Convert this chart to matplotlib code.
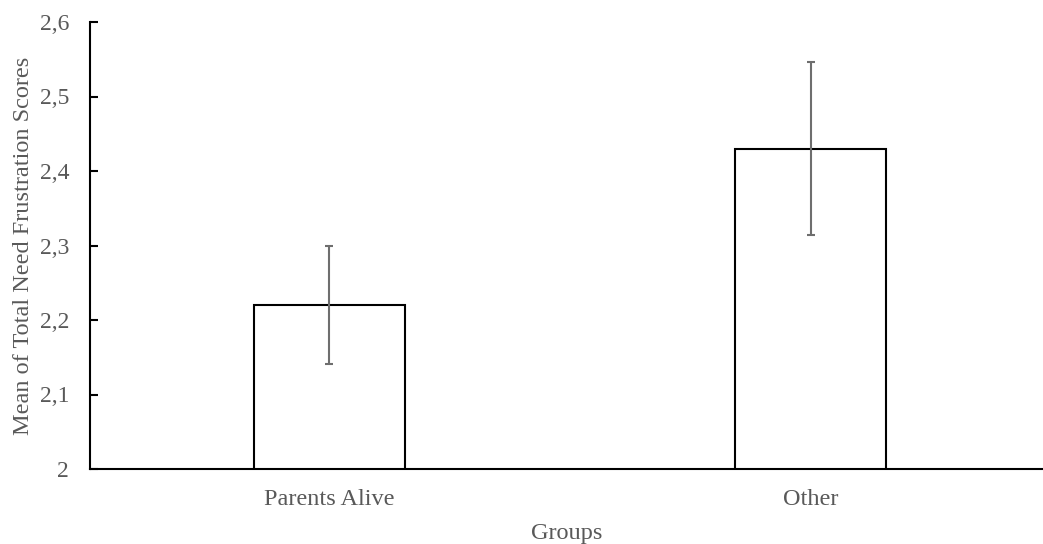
import matplotlib
matplotlib.use("Agg")
import matplotlib.pyplot as plt
from matplotlib.ticker import FuncFormatter

categories = ["Parents Alive", "Other"]
means = [2.22, 2.43]
errors = [0.079, 0.116]
y_ticks = [2.0, 2.1, 2.2, 2.3, 2.4, 2.5, 2.6]

plt.rcParams["font.family"] = ["Liberation Serif", "DejaVu Serif"]
text_color = "#595959"

fig = plt.figure(figsize=(10.43, 5.44), dpi=100)
ax = fig.add_axes([90 / 1043, 75 / 544, 1 - 90 / 1043, 447 / 544])

x = list(range(len(categories)))
ax.bar(x, means, width=0.314, color="white", edgecolor="black", linewidth=1.5, zorder=2)
ax.errorbar(x, means, yerr=errors, fmt="none", ecolor="#6e6e6e", elinewidth=1.5,
            capsize=3.2, capthick=1.5, zorder=3)

ax.set_ylim(2.0, 2.6)
ax.set_xlim(-0.497, 1.482)
ax.set_yticks(y_ticks)
ax.yaxis.set_major_formatter(
    FuncFormatter(lambda v, _: ("%g" % round(v, 1)).replace(".", ",")))
ax.set_xticks(x)
ax.set_xticklabels(categories)

for side in ("top", "right"):
    ax.spines[side].set_visible(False)
for side in ("left", "bottom"):
    ax.spines[side].set_linewidth(1.5)
    ax.spines[side].set_color("black")

ax.tick_params(axis="y", direction="in", length=6, width=1.5, pad=15,
               labelsize=17, labelcolor=text_color)
ax.tick_params(axis="x", length=0, pad=14.5, labelsize=17.5, labelcolor=text_color)

ax.set_xlabel("Groups", fontsize=17.5, color=text_color, labelpad=9)
ax.set_ylabel("Mean of Total Need Frustration Scores", fontsize=17.5,
              color=text_color, labelpad=4)

fig.savefig("out.png", dpi=100)
